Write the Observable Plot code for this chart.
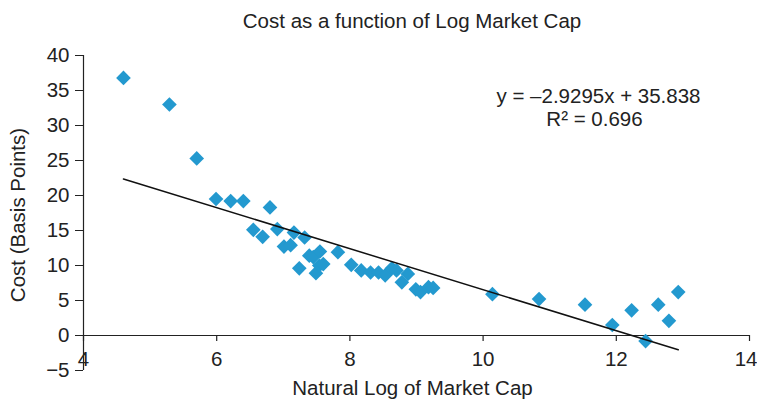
<!DOCTYPE html>
<html>
<head>
<meta charset="utf-8">
<script src="https://cdn.jsdelivr.net/npm/d3@7"></script>
<script src="https://cdn.jsdelivr.net/npm/@observablehq/plot@0.6"></script>
<style>
  html, body { margin: 0; padding: 0; background: #fff; }
  #wrap { width: 757px; height: 399px; font-family: "Liberation Sans", Arial, sans-serif; color: #222; }
  #title { height: 41px; line-height: 41px; font-size: 20.5px; text-align: center; padding-left: 67px; box-sizing: border-box; width: 757px; }
</style>
</head>
<body>
<div id="wrap">
  <div id="title">Cost as a function of Log Market Cap</div>
  <div id="chart"></div>
</div>
<script>
const logCap = [4.60, 5.29, 5.70, 5.99, 6.21, 6.40, 6.80, 6.55, 6.69, 6.91, 7.16, 7.32, 7.01, 7.11, 7.24, 7.39, 7.45, 7.55, 7.49, 7.54, 7.60, 7.82, 8.02, 8.17, 8.31, 8.43, 8.53, 8.63, 8.70, 8.78, 8.87, 8.99, 9.06, 9.18, 9.25, 10.14, 10.84, 11.53, 11.94, 12.23, 12.44, 12.63, 12.79, 12.93];
const costBp = [36.8, 33.0, 25.3, 19.5, 19.2, 19.2, 18.3, 15.1, 14.1, 15.2, 14.7, 14.0, 12.7, 12.9, 9.6, 11.4, 11.2, 12.0, 8.9, 10.0, 10.2, 11.9, 10.1, 9.3, 9.0, 9.0, 8.6, 9.6, 9.3, 7.6, 8.8, 6.6, 6.2, 6.9, 6.8, 5.9, 5.2, 4.4, 1.5, 3.6, -0.8, 4.4, 2.1, 6.2];
const slope = -2.9295;
const intercept = 35.838;
const equationLines = ["y = \u20132.9295x + 35.838", "R\u00B2 = 0.696"];
const xTicks = [4, 6, 8, 10, 12, 14];
const yTicks = [-5, 0, 5, 10, 15, 20, 25, 30, 35, 40];
const xLabel = "Natural Log of Market Cap";
const yLabel = "Cost (Basis Points)";

const points = logCap.map((x, i) => ({x, y: costBp[i]}));
const xExt = d3.extent(logCap);
const fit = xExt.map(x => ({x, y: slope * x + intercept}));
const lastTick = xTicks[xTicks.length - 1];
const innerTicks = xTicks.slice(0, -1);

const blue = "#2399cf";
const ink = "#222";

const chart = Plot.plot({
  width: 757,
  height: 358,
  marginTop: 14,
  marginBottom: 29,
  marginLeft: 83,
  marginRight: 8,
  style: { fontFamily: "'Liberation Sans', Arial, sans-serif", fontSize: "20.5px", color: ink, background: "#fff" },
  x: { domain: [4, 14], axis: null },
  y: { domain: [-5, 40], axis: null },
  marks: [
    Plot.ruleX([4], { stroke: ink, strokeWidth: 1.2 }),
    Plot.axisY(yTicks, { tickSize: 8, tickPadding: 6, stroke: ink, label: null, fill: ink }),
    Plot.ruleY([0], { stroke: ink, strokeWidth: 1.2 }),
    Plot.ruleX(xTicks, { x: d => d, y1: 0, y2: 0, insetBottom: -6, stroke: ink, strokeWidth: 1.2 }),
    Plot.text(innerTicks, { x: d => d, y: 0, text: d => String(d), dy: 24, fill: ink }),
    Plot.text([lastTick], { x: d => d, y: 0, text: d => String(d), dy: 24, dx: 8, textAnchor: "end", fill: ink }),
    Plot.dot(points, { x: "x", y: "y", symbol: "diamond2", r: 6.6, fill: blue, stroke: null }),
    Plot.line(fit, { x: "x", y: "y", stroke: "#111", strokeWidth: 1.5 }),
    Plot.text([equationLines[0]], { frameAnchor: "top-right", text: d => d, dx: -151, dy: 41, textAnchor: "middle", lineAnchor: "middle", fill: ink }),
    Plot.text([equationLines[1]], { frameAnchor: "top-right", text: d => d, dx: -155, dy: 64, textAnchor: "middle", lineAnchor: "middle", fill: ink }),
    Plot.text([xLabel], { frameAnchor: "bottom", text: d => d, dx: -4, dy: 18, lineAnchor: "middle", fill: ink }),
    Plot.text([yLabel], { frameAnchor: "left", text: d => d, rotate: -90, dx: -65, dy: 2, textAnchor: "middle", fill: ink })
  ]
});
document.getElementById("chart").appendChild(chart);
</script>
</body>
</html>
